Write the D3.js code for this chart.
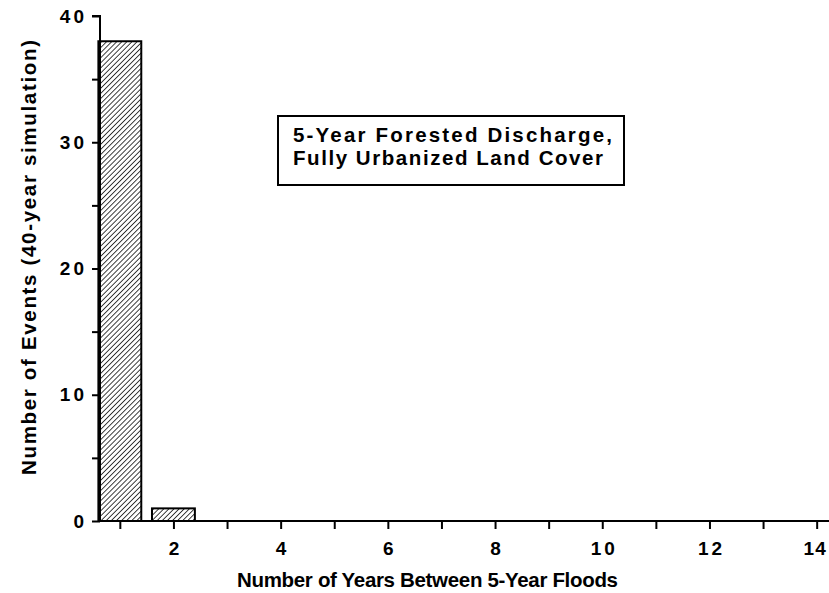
<!DOCTYPE html>
<html><head><meta charset="utf-8">
<script src="https://cdn.jsdelivr.net/npm/d3@7/dist/d3.min.js"></script>
<style>
html,body{margin:0;padding:0;background:#fff;}
svg{display:block;}
text{font-family:"Liberation Sans",Arial,Helvetica,sans-serif;font-weight:bold;fill:#000;}
</style></head>
<body>
<script>
// Data
const years = [1, 2];
const counts = [38, 1];
const yMajorTicks = [0, 10, 20, 30, 40];
const yMinorTicks = [5, 15, 25, 35];
const xTicks = [1, 2, 3, 4, 5, 6, 7, 8, 9, 10, 11, 12, 13, 14];
const xTickLabels = ["", "2", "", "4", "", "6", "", "8", "", "10", "", "12", "", "14"];
const xTitle = "Number of Years Between 5-Year Floods";
const yTitle = "Number of Events (40-year simulation)";
const noteLines = ["5-Year Forested Discharge,", "Fully Urbanized Land Cover"];

const W = 829, H = 593;
const svg = d3.select("body").append("svg").attr("width", W).attr("height", H);

const defs = svg.append("defs");
const pat = defs.append("pattern").attr("id", "hatch")
  .attr("patternUnits", "userSpaceOnUse").attr("width", 3.6).attr("height", 3.6)
  .attr("patternTransform", "rotate(45)");
pat.append("rect").attr("width", 3.6).attr("height", 3.6).attr("fill", "#fff");
pat.append("line").attr("x1", 0).attr("y1", 0).attr("x2", 0).attr("y2", 3.6)
  .attr("stroke", "#000").attr("stroke-width", 1.5);

const x = d3.scaleLinear().domain([0.63, 14.23]).range([100, 829]);
const y = d3.scaleLinear().domain([0, 40]).range([521, 16]);

// bars
svg.selectAll("rect.bar").data(years).enter().append("rect")
  .attr("class", "bar")
  .attr("x", (d) => x(d - 0.4))
  .attr("width", (d) => x(d + 0.4) - x(d - 0.4))
  .attr("y", (d, i) => y(counts[i]))
  .attr("height", (d, i) => y(0) - y(counts[i]))
  .attr("fill", "url(#hatch)")
  .attr("stroke", "#000").attr("stroke-width", 2);

// y axis
const yAxis = d3.axisLeft(y).tickValues(yMajorTicks).tickSize(8).tickPadding(5).tickFormat(d3.format("d"));
const gy = svg.append("g").attr("transform", "translate(100,0)").call(yAxis);
const gy2 = svg.append("g").attr("transform", "translate(100,0)")
  .call(d3.axisLeft(y).tickValues(yMinorTicks).tickSize(8).tickFormat(""));
gy2.select(".domain").remove();

// x axis
const xAxis = d3.axisBottom(x).tickValues(xTicks).tickSize(8).tickPadding(13)
  .tickFormat((d, i) => xTickLabels[i]);
const gx = svg.append("g").attr("transform", "translate(0,521)").call(xAxis);

[gx, gy, gy2].forEach(g => {
  g.selectAll(".domain").attr("stroke", "#000").attr("stroke-width", 2);
  g.selectAll(".tick line").attr("stroke", "#000").attr("stroke-width", 2);
  g.selectAll(".tick text").attr("font-size", 19).attr("letter-spacing", "3px")
    .style("font-family", "'Liberation Sans',Arial,sans-serif").style("font-weight", "bold");
});
gx.selectAll(".tick text").attr("dx", "1.5px");
gx.selectAll(".tick text").filter(d => d === 14).attr("letter-spacing", "1px").attr("dx", "-2px");
gy.select(".domain").attr("d", "M-8," + y(40) + "H0V" + y(0));
gx.select(".domain").attr("d", "M100,0H829");

// titles
svg.append("text").attr("x", 237).attr("y", 587)
  .attr("font-size", 20.5).attr("textLength", 381).attr("lengthAdjust", "spacing").text(xTitle);
svg.append("text").attr("transform", "translate(36,475) rotate(-90)")
  .attr("font-size", 20.5).attr("textLength", 435).attr("lengthAdjust", "spacing").text(yTitle);

// annotation box
svg.append("rect").attr("x", 278).attr("y", 116).attr("width", 346).attr("height", 69)
  .attr("fill", "#fff").attr("stroke", "#000").attr("stroke-width", 2);
svg.append("text").attr("x", 293).attr("y", 142).attr("font-size", 20.5)
  .attr("textLength", 319).attr("lengthAdjust", "spacing").text(noteLines[0]);
svg.append("text").attr("x", 293).attr("y", 165).attr("font-size", 20.5)
  .attr("textLength", 310).attr("lengthAdjust", "spacing").text(noteLines[1]);
</script>
</body></html>
